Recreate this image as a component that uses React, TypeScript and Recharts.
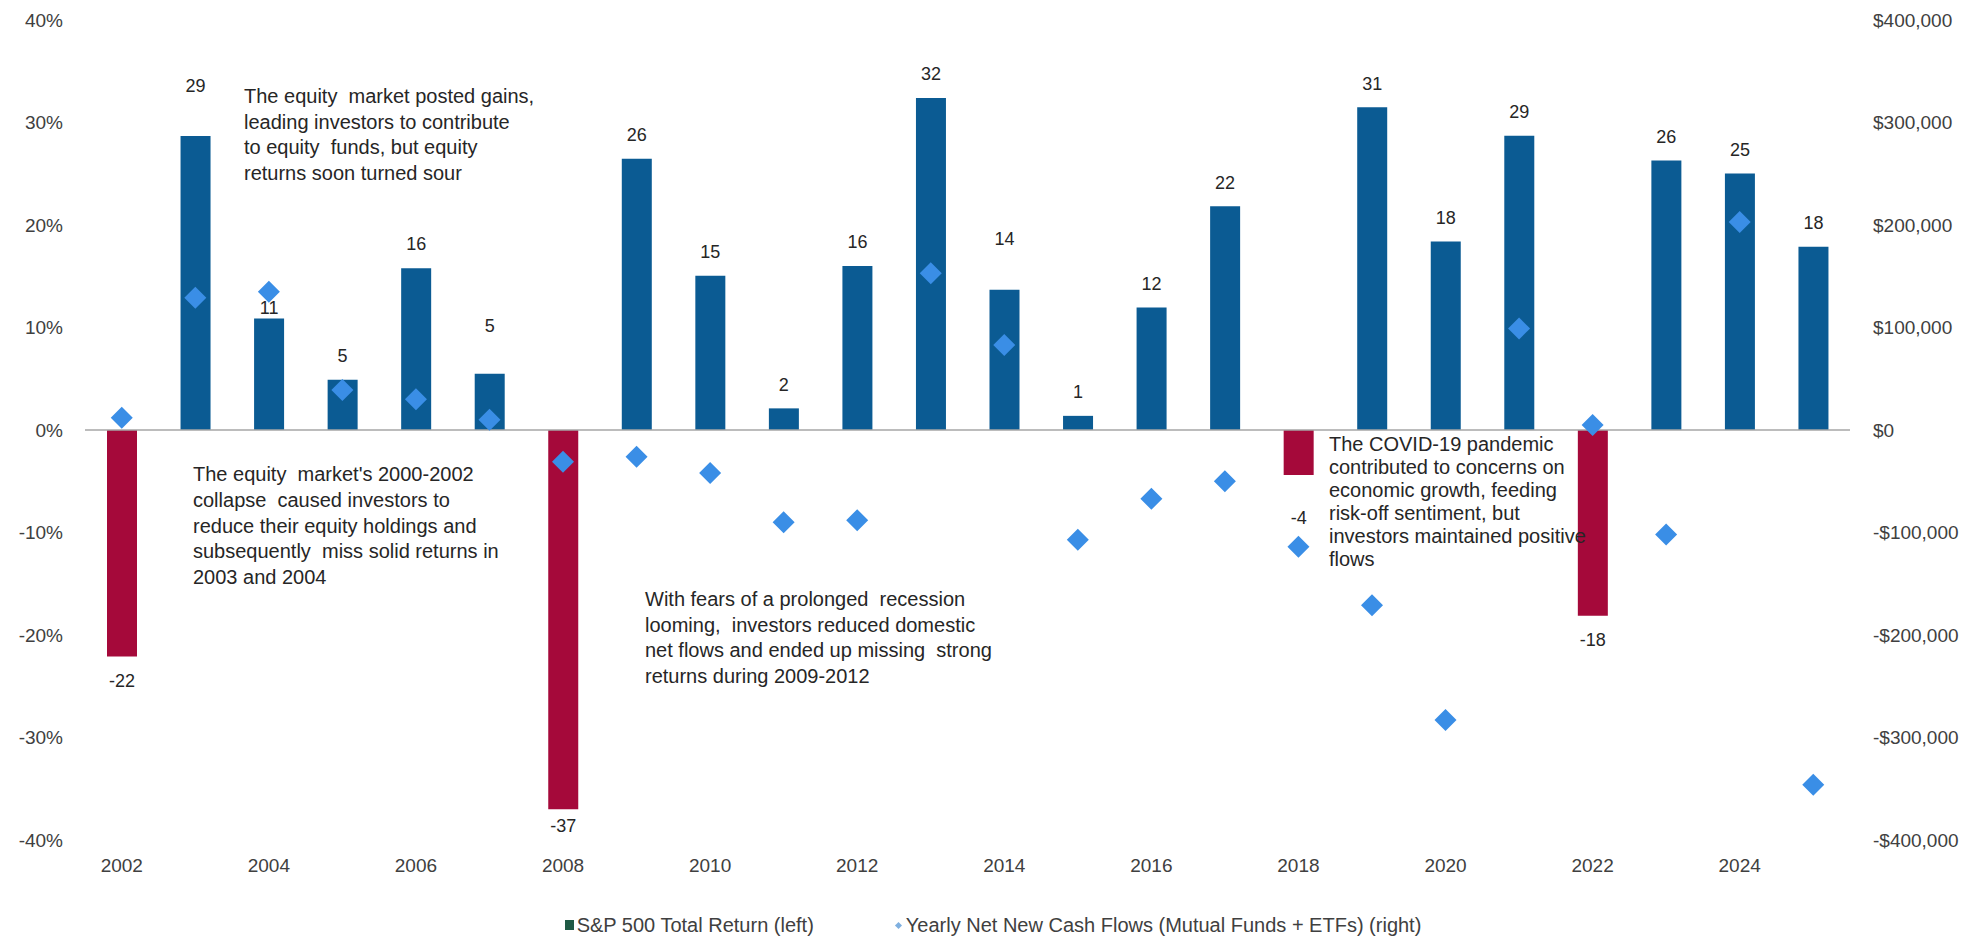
import {
  Bar, Cell, ComposedChart, LabelList, Legend, Line, ReferenceLine, XAxis, YAxis,
} from 'recharts'

const years = [
  '2002', '2003', '2004', '2005', '2006', '2007', '2008', '2009', '2010', '2011', '2012', '2013',
  '2014', '2015', '2016', '2017', '2018', '2019', '2020', '2021', '2022', '2023', '2024', '2025',
]
// S&P 500 total return, %
const totalReturn = [
  -22.1, 28.68, 10.88, 4.91, 15.79, 5.49, -37.0, 26.46, 15.06, 2.11, 16.0, 32.39,
  13.69, 1.38, 11.96, 21.83, -4.38, 31.49, 18.4, 28.71, -18.11, 26.29, 25.02, 17.88,
]
// yearly net new cash flows, $ millions
const netFlows = [
  12000, 129000, 135000, 39000, 30000, 10000, -31000, -26000, -42000, -90000, -88000, 153000,
  83000, -107000, -67000, -50000, -114000, -171000, -283000, 99000, 5000, -102000, 203000, -346000,
]
const leftTicks = [-40, -30, -20, -10, 0, 10, 20, 30, 40]
const rightTicks = [-400000, -300000, -200000, -100000, 0, 100000, 200000, 300000, 400000]

const seriesNames = ['S&P 500 Total Return (left)', 'Yearly Net New Cash Flows (Mutual Funds + ETFs) (right)']

const notes = [
  { left: 244, top: 84, lh: 25.5, lines: ['The equity  market posted gains,', 'leading investors to contribute', 'to equity  funds, but equity', 'returns soon turned sour'] },
  { left: 193, top: 462, lh: 25.8, lines: ["The equity  market's 2000-2002", 'collapse  caused investors to', 'reduce their equity holdings and', 'subsequently  miss solid returns in', '2003 and 2004'] },
  { left: 645, top: 587, lh: 25.7, lines: ['With fears of a prolonged  recession', 'looming,  investors reduced domestic', 'net flows and ended up missing  strong', 'returns during 2009-2012'] },
  { left: 1329, top: 433, lh: 23, lines: ['The COVID-19 pandemic', 'contributed to concerns on', 'economic growth, feeding', 'risk-off sentiment, but', 'investors maintained positive', 'flows'] },
]

const data = years.map((year, i) => ({ year, ret: totalReturn[i], flow: netFlows[i] }))

const BLUE = '#0B5B93'
const RED = '#A5093A'
const DIAMOND = '#3A8EE6'
const FONT = '"Liberation Sans", Arial, sans-serif'

// distance from bar end to label centre; a few labels were moved by hand in the original
const labelGap: Record<string, number> = { '2003': 50, '2004': 11, '2007': 48, '2008': 16, '2014': 51, '2018': 43 }

function BarValueLabel(props: any) {
  const { x, y, width, height, value, index } = props
  const gap = labelGap[years[index]] ?? 24
  const top = Math.min(y, y + height)
  const bottom = Math.max(y, y + height)
  const cy = value < 0 ? bottom + gap : top - gap
  return (
    <text x={x + width / 2} y={cy} dy="0.35em" textAnchor="middle" fontSize={18} fill="#262626">
      {Math.round(value)}
    </text>
  )
}

function Diamond(props: any) {
  const { cx, cy, index } = props
  if (cx == null || cy == null) return null
  const r = 11
  return <polygon key={index} points={`${cx},${cy - r} ${cx + r},${cy} ${cx},${cy + r} ${cx - r},${cy}`} fill={DIAMOND} />
}

const fmtMoney = (v: number) => (v < 0 ? '-$' : '$') + Math.abs(v).toLocaleString('en-US')

function LegendBox() {
  return (
    <div style={{ display: 'flex', justifyContent: 'center', gap: 82, fontSize: 20, lineHeight: '24px', color: '#404040', fontFamily: FONT }}>
      <span style={{ display: 'flex', alignItems: 'center', gap: 3 }}>
        <span style={{ width: 9, height: 10, background: '#1F5A45', display: 'inline-block' }} />
        {seriesNames[0]}
      </span>
      <span style={{ display: 'flex', alignItems: 'center', gap: 5 }}>
        <span style={{ width: 5, height: 5, background: '#7FB0E0', transform: 'rotate(45deg)', display: 'inline-block' }} />
        {seriesNames[1]}
      </span>
    </div>
  )
}

export default function App() {
  return (
    <div style={{ position: 'absolute', left: 0, top: 0, width: 1986, height: 937, background: '#fff', fontFamily: FONT }}>
      <ComposedChart width={1986} height={937} data={data} margin={{ top: 20, right: 0, bottom: 67, left: 0 }}>
        <XAxis dataKey="year" interval={1} tickLine={false} axisLine={false} tickSize={0} tickMargin={19}
          tick={{ fontSize: 19, fill: '#404040' }} />
        <YAxis yAxisId="left" domain={[-40, 40]} ticks={leftTicks} width={85} tickLine={false} axisLine={false}
          tickSize={0} tickMargin={22} tickFormatter={(v: number) => `${v}%`} tick={{ fontSize: 19, fill: '#404040' }} />
        <YAxis yAxisId="right" orientation="right" domain={[-400000, 400000]} ticks={rightTicks} width={136}
          tickLine={false} axisLine={false} tickSize={0} tickMargin={23} tickFormatter={fmtMoney}
          tick={{ fontSize: 19, fill: '#404040' }} />
        <ReferenceLine yAxisId="left" y={0} stroke="#A6A6A6" strokeWidth={1.5} />
        <Bar yAxisId="left" dataKey="ret" barSize={30} isAnimationActive={false}>
          {data.map((d) => <Cell key={d.year} fill={d.ret < 0 ? RED : BLUE} />)}
          <LabelList dataKey="ret" content={BarValueLabel} />
        </Bar>
        <Line yAxisId="right" dataKey="flow" stroke="none" dot={Diamond} activeDot={false} isAnimationActive={false} />
        <Legend verticalAlign="middle" wrapperStyle={{ top: 913, left: 0, width: 1986 }} content={() => <LegendBox />} />
      </ComposedChart>
      {notes.map((n, i) => (
        <div key={i} style={{ position: 'absolute', left: n.left, top: n.top, fontSize: 20, lineHeight: `${n.lh}px`, color: '#262626', whiteSpace: 'pre', pointerEvents: 'none' }}>
          {n.lines.join('\n')}
        </div>
      ))}
    </div>
  )
}
